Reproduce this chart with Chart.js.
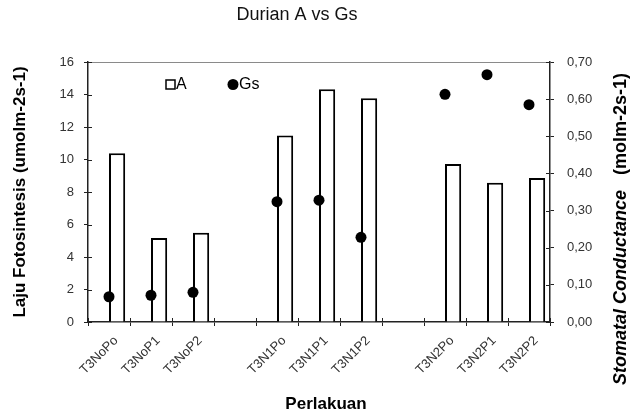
<!DOCTYPE html>
<html>
<head>
<meta charset="utf-8">
<script src="https://cdn.jsdelivr.net/npm/chart.js@4"></script>
<style>
  body { margin: 0; background: #fff; }
  canvas { display: block; }
</style>
</head>
<body>
<canvas id="chart" width="638" height="416"></canvas>
<script>
// --- DATA ---
const categories = ['T3NoPo', 'T3NoP1', 'T3NoP2', '', 'T3N1Po', 'T3N1P1', 'T3N1P2', '', 'T3N2Po', 'T3N2P1', 'T3N2P2'];
const aValues = [10.38, 5.17, 5.5, null, 11.47, 14.32, 13.77, null, 9.72, 8.57, 8.86];
const gsValues = [0.068, 0.072, 0.08, null, 0.324, 0.328, 0.228, null, 0.613, 0.666, 0.585];
const aTicks = { min: 0, max: 16, step: 2 };
const gsTicks = { min: 0, max: 0.7, step: 0.1 };

const FONT = "'Liberation Sans', Arial, sans-serif";
const AXIS = '#222';

// inner half of the crossing tick marks, frame top, legend and titles
const decor = {
    id: 'decor',
    afterDraw(chart) {
        const ctx = chart.ctx;
        const area = chart.chartArea;
        const sx = chart.scales.x, sy = chart.scales.y, sy2 = chart.scales.y2;
        ctx.save();

        // top edge of plot
        ctx.strokeStyle = '#8a8a8a';
        ctx.lineWidth = 1;
        ctx.beginPath();
        ctx.moveTo(area.left, area.top + 0.5);
        ctx.lineTo(area.right, area.top + 0.5);
        ctx.stroke();

        ctx.strokeStyle = AXIS;
        ctx.beginPath();
        sy.ticks.forEach((t, i) => {
            const p = Math.round(sy.getPixelForTick(i)) + 0.5;
            ctx.moveTo(area.left, p); ctx.lineTo(area.left + 4, p);
        });
        sy2.ticks.forEach((t, i) => {
            const p = Math.round(sy2.getPixelForTick(i)) + 0.5;
            ctx.moveTo(area.right - 4, p); ctx.lineTo(area.right, p);
        });
        for (let i = 0; i <= categories.length; i++) {
            const p = Math.round(sx.getPixelForValue(i - 0.5)) + 0.5;
            ctx.moveTo(p, area.bottom); ctx.lineTo(p, area.bottom - 4);
        }
        ctx.stroke();

        // legend
        ctx.fillStyle = '#000';
        ctx.strokeStyle = '#000';
        ctx.lineWidth = 1.5;
        ctx.strokeRect(166, 80, 9, 9);
        ctx.beginPath();
        ctx.arc(233, 84.5, 5.5, 0, Math.PI * 2);
        ctx.fill();
        ctx.font = '16px ' + FONT;
        ctx.textBaseline = 'middle';
        ctx.textAlign = 'left';
        ctx.fillText(chart.data.datasets[1].label, 176, 85);
        ctx.fillText(chart.data.datasets[2].label, 239, 85);

        // chart title
        ctx.fillStyle = '#111';
        ctx.font = '18px ' + FONT;
        ctx.textAlign = 'center';
        ctx.fillText('Durian A vs Gs', 297, 15);

        // axis titles
        ctx.fillStyle = '#000';
        ctx.font = 'bold 17px ' + FONT;
        ctx.fillText('Perlakuan', 326, 404);

        ctx.save();
        ctx.translate(20, 192);
        ctx.rotate(-Math.PI / 2);
        ctx.fillText('Laju Fotosintesis (umolm-2s-1)', 0, 0);
        ctx.restore();

        const part1 = 'Stomatal Conductance', part2 = '   (molm-2s-1)';
        ctx.font = 'italic bold 18px ' + FONT;
        const w1 = ctx.measureText(part1).width;
        ctx.font = 'bold 18px ' + FONT;
        const w2 = ctx.measureText(part2).width;
        ctx.save();
        ctx.translate(621, 229);
        ctx.rotate(-Math.PI / 2);
        ctx.textAlign = 'left';
        const start = -(w1 + w2) / 2;
        ctx.font = 'italic bold 18px ' + FONT;
        ctx.fillText(part1, start, 0);
        ctx.font = 'bold 18px ' + FONT;
        ctx.fillText(part2, start + w1, 0);
        ctx.restore();

        ctx.restore();
    }
};

new Chart(document.getElementById('chart'), {
    type: 'bar',
    data: {
        labels: categories,
        datasets: [
            // empty first slot so A sits right of the category centre
            { label: '', data: categories.map(() => null), yAxisID: 'y', order: 1 },
            {
                label: 'A', data: aValues, yAxisID: 'y', order: 2,
                backgroundColor: '#fff', borderColor: '#000', borderWidth: 2
            },
            {
                type: 'line', label: 'Gs', data: gsValues, yAxisID: 'y2', order: 0,
                showLine: false, pointRadius: 5.5, pointHoverRadius: 5.5,
                pointBackgroundColor: '#000', pointBorderColor: '#000', pointBorderWidth: 0
            }
        ]
    },
    options: {
        responsive: false,
        animation: false,
        layout: { padding: { top: 62, left: 0, right: 0, bottom: 0 } },
        datasets: { bar: { categoryPercentage: 0.77, barPercentage: 1 } },
        plugins: { legend: { display: false }, title: { display: false }, tooltip: { enabled: false } },
        scales: {
            x: {
                afterFit: s => { s.height = 94; },
                grid: { display: true, drawOnChartArea: false, offset: true, tickLength: 4, color: AXIS, tickColor: AXIS },
                border: { color: AXIS, width: 1.5 },
                ticks: {
                    autoSkip: false, minRotation: 45, maxRotation: 45, padding: 7, labelOffset: 7,
                    color: '#333', font: { family: FONT, size: 13 }
                }
            },
            y: {
                position: 'left',
                min: aTicks.min, max: aTicks.max,
                afterFit: s => { s.width = 88; },
                grid: { drawOnChartArea: false, tickLength: 4, color: AXIS, tickColor: AXIS },
                border: { color: AXIS, width: 1.5 },
                ticks: { stepSize: aTicks.step, padding: 10, color: '#333', font: { family: FONT, size: 13 } }
            },
            y2: {
                position: 'right',
                min: gsTicks.min, max: gsTicks.max,
                afterFit: s => { s.width = 88; },
                grid: { drawOnChartArea: false, tickLength: 4, color: AXIS, tickColor: AXIS },
                border: { color: AXIS, width: 1.5 },
                ticks: {
                    stepSize: gsTicks.step, padding: 13, color: '#333', font: { family: FONT, size: 13 },
                    callback: v => v.toFixed(2).replace('.', ',')
                }
            }
        }
    },
    plugins: [decor]
});
</script>
</body>
</html>
